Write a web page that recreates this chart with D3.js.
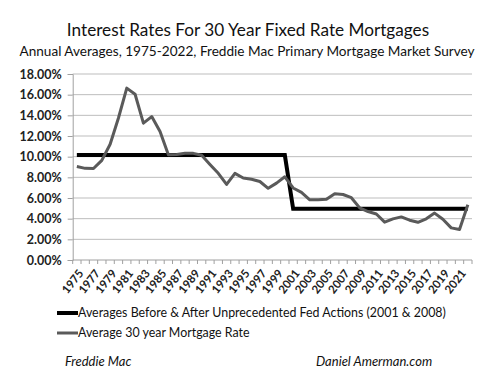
<!DOCTYPE html>
<html><head><meta charset="utf-8">
<script src="https://cdn.jsdelivr.net/npm/d3@7"></script>
<style>body{margin:0;background:#fff}svg{display:block}text{font-family:Lato,"Open Sans",sans-serif}</style>
</head><body>
<svg id="c" width="500" height="389"></svg>
<script>
const years = [1975,1976,1977,1978,1979,1980,1981,1982,1983,1984,1985,1986,1987,1988,1989,1990,1991,1992,1993,1994,1995,1996,1997,1998,1999,2000,2001,2002,2003,2004,2005,2006,2007,2008,2009,2010,2011,2012,2013,2014,2015,2016,2017,2018,2019,2020,2021,2022];
const mortgageRate = [9.05,8.87,8.85,9.64,11.20,13.74,16.63,16.04,13.24,13.88,12.43,10.19,10.21,10.34,10.32,10.13,9.25,8.39,7.31,8.38,7.93,7.81,7.60,6.94,7.44,8.05,6.97,6.54,5.83,5.84,5.87,6.41,6.34,6.03,5.04,4.69,4.45,3.66,3.98,4.17,3.85,3.65,3.99,4.54,3.94,3.11,2.96,5.34];
const periodAverage = [10.15,10.15,10.15,10.15,10.15,10.15,10.15,10.15,10.15,10.15,10.15,10.15,10.15,10.15,10.15,10.15,10.15,10.15,10.15,10.15,10.15,10.15,10.15,10.15,10.15,10.15,4.95,4.95,4.95,4.95,4.95,4.95,4.95,4.95,4.95,4.95,4.95,4.95,4.95,4.95,4.95,4.95,4.95,4.95,4.95,4.95,4.95,4.95];
const yTicks = [0,2,4,6,8,10,12,14,16,18];
const seriesNames = ["Averages Before & After Unprecedented Fed Actions (2001 & 2008)","Average 30 year Mortgage Rate"];
const title = "Interest Rates For 30 Year Fixed Rate Mortgages";
const subtitle = "Annual Averages, 1975-2022, Freddie Mac Primary Mortgage Market Survey";

const svg = d3.select("#c");
const L = 72.7, R = 472, T = 74, B = 260;
const x = d3.scaleBand().domain(years).range([L, R]);
const y = d3.scaleLinear().domain([0, 18]).range([B, T]);
const cx = d => x(d) + x.bandwidth()/2;

svg.append("text").attr("x", 248).attr("y", 36).attr("text-anchor","middle")
  .attr("font-size", 17.2).attr("fill","#111").text(title);
svg.append("text").attr("x", 247).attr("y", 56).attr("text-anchor","middle")
  .attr("font-size", 13.6).attr("fill","#111").text(subtitle);

// gridlines
svg.append("g").selectAll("line").data(yTicks.filter(d=>d>0)).join("line")
  .attr("x1", L).attr("x2", R).attr("y1", d=>y(d)).attr("y2", d=>y(d))
  .attr("stroke", "#bdbdbd").attr("stroke-width", 1);

// y axis
const ya = svg.append("g").attr("transform", `translate(${L},0)`)
  .call(d3.axisLeft(y).tickValues(yTicks).tickSize(5).tickPadding(6).tickFormat(d => d.toFixed(2) + "%"));
ya.select(".domain").attr("stroke", "#a0a0a0");
ya.selectAll(".tick line").attr("stroke", "#a0a0a0");
ya.selectAll("text").attr("font-family","Lato").attr("font-size", 12.5).attr("font-weight","bold").attr("fill","#222");

// x axis with ticks at category boundaries
const xa = svg.append("g").attr("transform", `translate(0,${B})`);
xa.append("line").attr("x1", L).attr("x2", R).attr("stroke", "#a0a0a0");
xa.selectAll("line.t").data(years.concat([null])).join("line").attr("class","t")
  .attr("x1", (d,i) => i < years.length ? x(d) : R).attr("x2", (d,i) => i < years.length ? x(d) : R)
  .attr("y1", 0).attr("y2", 4).attr("stroke", "#a0a0a0");
xa.selectAll("text").data(years.filter((d,i)=>i%2===0)).join("text")
  .attr("transform", d => `translate(${cx(d)+4},${11}) rotate(-52)`)
  .attr("text-anchor","end").attr("dy","0.35em")
  .attr("font-size", 11.5).attr("font-weight","bold").attr("fill","#222").text(d => d);

// lines
const line = d3.line().x((d,i) => cx(years[i])).y(d => y(d));
svg.append("path").datum(periodAverage).attr("d", line)
  .attr("fill","none").attr("stroke","#000").attr("stroke-width", 4).attr("stroke-linejoin","miter");
svg.append("path").datum(mortgageRate).attr("d", line)
  .attr("fill","none").attr("stroke","#5a5a5a").attr("stroke-width", 3).attr("stroke-linejoin","round");

// legend
const lg = svg.append("g");
const lc = ["#000", "#5a5a5a"], lw = [4, 3];
seriesNames.forEach((n, i) => {
  const yy = 313 + i*20;
  lg.append("line").attr("x1", 57).attr("x2", 78).attr("y1", yy).attr("y2", yy)
    .attr("stroke", lc[i]).attr("stroke-width", lw[i]);
  lg.append("text").attr("x", 78).attr("y", yy).attr("dy","0.35em")
    .attr("font-size", 12.4).attr("fill","#111").text(n);
});

svg.append("text").attr("x", 65).attr("y", 366).attr("font-size", 13).attr("font-style","italic").attr("fill","#111").text("Freddie Mac");
svg.append("text").attr("x", 316).attr("y", 366).attr("font-size", 13).attr("font-style","italic").attr("fill","#111").text("Daniel Amerman.com");
</script>
</body></html>
